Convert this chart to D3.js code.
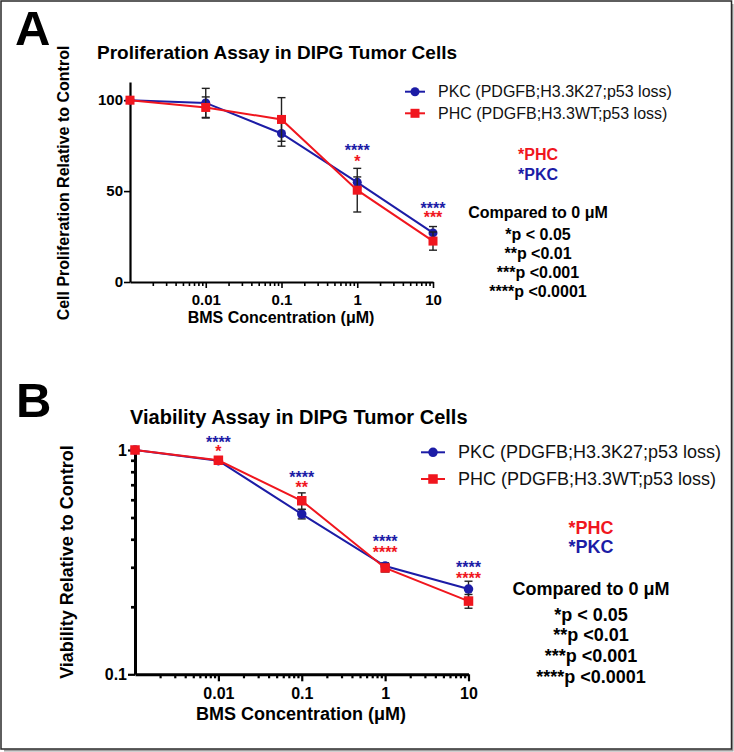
<!DOCTYPE html>
<html><head><meta charset="utf-8">
<script src="https://cdn.jsdelivr.net/npm/d3@7"></script>
<style>
html,body{margin:0;padding:0;background:#fff;}
svg{display:block;font-family:"Liberation Sans",Arial,Helvetica,sans-serif;}
</style></head>
<body><svg id="c" width="734" height="752"></svg>
<script>
// ---------- DATA ----------
// dose 0 is plotted at the axis origin (0.001 on the log axis)
const doses = [0.001, 0.01, 0.1, 1, 10];
const xTickValues = [0.01, 0.1, 1, 10];
const xTickLabels = ["0.01", "0.1", "1", "10"];
const seriesNames = ["PKC (PDGFB;H3.3K27;p53 loss)", "PHC (PDGFB;H3.3WT;p53 loss)"];

// Panel A: proliferation (% of control)
const profPKC = [100, 98.5, 81.7, 54.8, 27];
const profPKCerr = [0, 8, 7, 3, 3.5];
const profPHC = [100, 96, 89.4, 50.5, 22.5];
const profPHCerr = [0, 5.8, 12, 12, 5];
const profYTicks = [0, 50, 100];
// significance labels: dose, label, value where the label sits
const profStarsPKC = [[1, "****", 74.4], [10, "****", 42.4]];
const profStarsPHC = [[1, "*", 68.2], [10, "***", 37.4]];

// Panel B: viability (fraction of control)
const viaPKC = [1, 0.896, 0.518, 0.304, 0.240];
const viaPKCerr = [0, 0.01, 0.025, 0.01, 0.02];
const viaPHC = [1, 0.9, 0.594, 0.298, 0.212];
const viaPHCerr = [0, 0.01, 0.05, 0.012, 0.015];
const viaYTicks = [0.1, 1];
const viaYTickLabels = ["0.1", "1"];
const viaYMinor = [0.2, 0.3, 0.4, 0.5, 0.6, 0.7, 0.8, 0.9];
const viaStarsPKC = [[0.01, "****", 1.12], [0.1, "****", 0.782], [1, "****", 0.406], [10, "****", 0.310]];
const viaStarsPHC = [[0.01, "*", 1.02], [0.1, "**", 0.705], [1, "****", 0.362], [10, "****", 0.277]];

const sigLegend = ["*p < 0.05", "**p <0.01", "***p <0.001", "****p <0.0001"];

// ---------- STYLE ----------
const BLUE = "#1c1ca6", RED = "#f0161e";
const svg = d3.select("#c");

// frame with a soft shadow on right/bottom
svg.append("path").attr("d", "M4,750.5 H732.5 V4").attr("fill", "none")
  .attr("stroke", "#a0a0a0").attr("stroke-width", 2);
svg.append("rect").attr("x", 1).attr("y", 1).attr("width", 730.5).attr("height", 748)
  .attr("fill", "none").attr("stroke", "#2a2a2a").attr("stroke-width", 1.5);

const xMinor = [];
for (let e = -3; e < 1; e++) for (let m = 2; m <= 9; m++) xMinor.push(m * Math.pow(10, e));

function panel(cfg) {
  const g = svg.append("g");
  const x = d3.scaleLog().domain([0.001, 10]).range(cfg.xr);
  const y = cfg.y;
  // panel letter
  g.append("text").attr("x", cfg.letterPos[0]).attr("y", cfg.letterPos[1])
    .attr("font-size", 49).attr("font-weight", "bold").text(cfg.letter);
  // title
  g.append("text").attr("x", cfg.titlePos[0]).attr("y", cfg.titlePos[1])
    .attr("font-size", cfg.titleSize).attr("font-weight", "bold").text(cfg.title);

  const y0 = y.range()[0];
  // x axis
  const xa = g.append("g").attr("transform", `translate(0,${y0})`)
    .call(d3.axisBottom(x).tickValues(xTickValues).tickSize(cfg.majorTick).tickSizeOuter(0)
      .tickFormat((d, i) => xTickLabels[i]));
  xa.select(".domain").attr("stroke-width", cfg.axisW).attr("stroke", "#000");
  xa.selectAll(".tick line").attr("stroke-width", cfg.tickW);
  xa.selectAll(".tick text").attr("font-size", cfg.tickFont).attr("font-weight", "bold")
    .attr("font-family", "inherit").attr("fill", "#000").attr("dy", cfg.xLabelDy);
  const xm = g.append("g").attr("transform", `translate(0,${y0})`)
    .call(d3.axisBottom(x).tickValues(xMinor).tickSize(cfg.minorTick).tickFormat(""));
  xm.select(".domain").remove();
  xm.selectAll(".tick line").attr("stroke-width", cfg.tickW);

  // y axis
  const ya = g.append("g").attr("transform", `translate(${cfg.xr[0]},0)`)
    .call(d3.axisLeft(y).tickValues(cfg.yTicks).tickSize(cfg.yMajorTick).tickSizeOuter(0)
      .tickFormat((d, i) => cfg.yTickLabels[i]));
  ya.select(".domain").attr("stroke-width", cfg.axisW).attr("stroke", "#000");
  ya.selectAll(".tick line").attr("stroke-width", cfg.tickW);
  ya.selectAll(".tick text").attr("font-size", cfg.tickFont).attr("font-weight", "bold")
    .attr("font-family", "inherit").attr("fill", "#000").attr("x", -cfg.yMajorTick - 1);
  if (cfg.yMinor) {
    const ym = g.append("g").attr("transform", `translate(${cfg.xr[0]},0)`)
      .call(d3.axisLeft(y).tickValues(cfg.yMinor).tickSize(cfg.yMinorTick).tickFormat(""));
    ym.select(".domain").remove();
    ym.selectAll(".tick line").attr("stroke-width", cfg.tickW + 0.5);
  }

  // axis titles
  g.append("text").attr("x", cfg.xTitlePos[0]).attr("y", cfg.xTitlePos[1])
    .attr("text-anchor", "middle").attr("font-size", cfg.xTitleSize).attr("font-weight", "bold")
    .text("BMS Concentration (\u03bcM)");
  g.append("text").attr("transform", `translate(${cfg.yTitlePos[0]},${cfg.yTitlePos[1]}) rotate(-90)`)
    .attr("text-anchor", "middle").attr("dominant-baseline", "central")
    .attr("font-size", cfg.yTitleSize).attr("font-weight", "bold").text(cfg.yTitle);

  // series
  const series = [
    {vals: cfg.pkc, err: cfg.pkcErr, color: BLUE, shape: "circle"},
    {vals: cfg.phc, err: cfg.phcErr, color: RED, shape: "square"}
  ];
  const line = d3.line().x(d => x(d[0])).y(d => y(d[1]));
  series.forEach(s => {
    const pts = doses.map((d, i) => [d, s.vals[i], s.err[i]]);
    const eb = g.append("g").attr("stroke", "#222").attr("stroke-width", 1.4);
    pts.filter(p => p[2] > 0).forEach(p => {
      const cx = x(p[0]), yt = y(p[1] + p[2]), yb = y(p[1] - p[2]);
      eb.append("line").attr("x1", cx).attr("x2", cx).attr("y1", yt).attr("y2", yb);
      eb.append("line").attr("x1", cx - 4).attr("x2", cx + 4).attr("y1", yt).attr("y2", yt);
      eb.append("line").attr("x1", cx - 4).attr("x2", cx + 4).attr("y1", yb).attr("y2", yb);
    });
    g.append("path").datum(pts).attr("d", line).attr("fill", "none")
      .attr("stroke", s.color).attr("stroke-width", 2);
    pts.forEach(p => drawMarker(g, s.shape, x(p[0]), y(p[1]), s.color, cfg.mk));
  });

  // significance stars
  const starFont = 16;
  [[cfg.starsPKC, BLUE], [cfg.starsPHC, RED]].forEach(([arr, col]) => {
    arr.forEach(a => {
      g.append("text").attr("x", x(a[0])).attr("y", y(a[2]) + starFont * 0.56)
        .attr("text-anchor", "middle").attr("font-size", starFont).attr("font-weight", "bold")
        .attr("fill", col).text(a[1]);
    });
  });

  // legend
  const L = cfg.legend;
  [[BLUE, "circle", seriesNames[0]], [RED, "square", seriesNames[1]]].forEach((it, i) => {
    const ly = L.y + i * L.dy;
    g.append("line").attr("x1", L.x0).attr("x2", L.x1).attr("y1", ly).attr("y2", ly)
      .attr("stroke", it[0]).attr("stroke-width", 2);
    drawMarker(g, it[1], (L.x0 + L.x1) / 2, ly, it[0], cfg.mk);
    g.append("text").attr("x", L.tx).attr("y", ly).attr("dominant-baseline", "central")
      .attr("font-size", L.size).attr("fill", "#111").text(it[2]);
  });

  // key text
  const K = cfg.key;
  g.append("text").attr("x", K.cx).attr("y", K.ys[0]).attr("text-anchor", "middle")
    .attr("font-size", K.size).attr("font-weight", "bold").attr("fill", RED).text("*PHC");
  g.append("text").attr("x", K.cx).attr("y", K.ys[1]).attr("text-anchor", "middle")
    .attr("font-size", K.size).attr("font-weight", "bold").attr("fill", BLUE).text("*PKC");
  g.append("text").attr("x", K.cx).attr("y", K.ys[2]).attr("text-anchor", "middle")
    .attr("font-size", K.size).attr("font-weight", "bold").text("Compared to 0 \u03bcM");
  sigLegend.forEach((t, i) => {
    g.append("text").attr("x", K.cx).attr("y", K.ys[3] + i * K.dy).attr("text-anchor", "middle")
      .attr("font-size", K.size).attr("font-weight", "bold").text(t);
  });
}

function drawMarker(g, shape, cx, cy, color, size) {
  if (shape === "circle") {
    g.append("circle").attr("cx", cx).attr("cy", cy).attr("r", size / 2).attr("fill", color);
  } else {
    g.append("rect").attr("x", cx - size / 2).attr("y", cy - size / 2)
      .attr("width", size).attr("height", size).attr("fill", color);
  }
}

panel({
  letter: "A", letterPos: [15, 45],
  title: "Proliferation Assay in DIPG Tumor Cells", titlePos: [97, 59], titleSize: 19,
  xr: [130, 433],
  y: d3.scaleLinear().domain([0, 110]).range([282, 82]),
  yTicks: profYTicks, yTickLabels: profYTicks.map(String),
  axisW: 2.2, tickW: 1.6, majorTick: 6, minorTick: 4, yMajorTick: 6,
  tickFont: 15, xLabelDy: "0.9em",
  xTitlePos: [281, 323], xTitleSize: 16,
  yTitlePos: [63, 183], yTitleSize: 16, yTitle: "Cell Proliferation Relative to Control",
  pkc: profPKC, pkcErr: profPKCerr, phc: profPHC, phcErr: profPHCerr,
  starsPKC: profStarsPKC, starsPHC: profStarsPHC, mk: 9,
  legend: {x0: 405, x1: 425, y: 91.7, dy: 21.6, tx: 438, size: 16},
  key: {cx: 538, size: 16, ys: [160, 180, 217.5, 240], dy: 19}
});

panel({
  letter: "B", letterPos: [16, 416.5],
  title: "Viability Assay in DIPG Tumor Cells", titlePos: [130, 424], titleSize: 20,
  xr: [135, 468.5],
  y: d3.scaleLog().domain([0.1, 1]).range([674.3, 450]),
  yTicks: viaYTicks, yTickLabels: viaYTickLabels, yMinor: viaYMinor,
  axisW: 3, tickW: 2.2, majorTick: 7, minorTick: 4, yMajorTick: 7, yMinorTick: 4,
  tickFont: 16, xLabelDy: "0.9em",
  xTitlePos: [301, 720], xTitleSize: 18,
  yTitlePos: [66.5, 562], yTitleSize: 18, yTitle: "Viability Relative to Control",
  pkc: viaPKC, pkcErr: viaPKCerr, phc: viaPHC, phcErr: viaPHCerr,
  starsPKC: viaStarsPKC, starsPHC: viaStarsPHC, mk: 9.5,
  legend: {x0: 421, x1: 445, y: 452.3, dy: 26.7, tx: 458, size: 18},
  key: {cx: 591, size: 18, ys: [533.5, 553, 594.5, 620.5], dy: 20.9}
});
</script></body></html>
